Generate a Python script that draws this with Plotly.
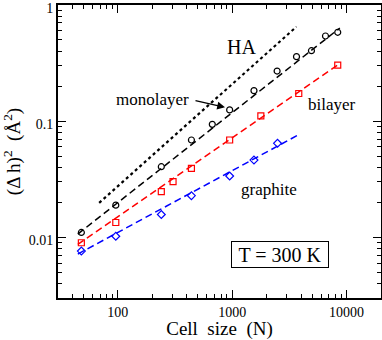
import plotly.graph_objects as go

# data (cell size N, <(Δh)^2> in Å^2)
mono_n = [48, 96, 240, 440, 670, 950, 1550, 2470, 3650, 4930, 6540, 8370]
mono_v = [0.0110, 0.0189, 0.0405, 0.0688, 0.0938, 0.125, 0.183, 0.270, 0.359, 0.404, 0.541, 0.582]
bi_n = [48, 96, 240, 304, 440, 950, 1780, 3820, 8370]
bi_v = [0.00897, 0.0134, 0.0247, 0.0301, 0.0392, 0.0688, 0.111, 0.173, 0.304]
gr_n = [48, 96, 240, 440, 950, 1550, 2490]
gr_v = [0.0076, 0.0102, 0.0157, 0.0228, 0.0337, 0.0462, 0.0644]

# straight power-law fits (end points)
mono_fit_n = [44.7, 8730]
mono_fit_v = [0.01066, 0.634]
bi_fit_n = [44.7, 8370]
bi_fit_v = [0.00869, 0.304]
gr_fit_n = [44.7, 3767]
gr_fit_v = [0.00717, 0.0759]
ha_n = [68.7, 3648]
ha_v = [0.0198, 0.650]

x_ticks = [100, 1000, 10000]
x_labels = ["100", "1000", "10000"]
y_ticks = [0.01, 0.1, 1]
y_labels = ["0.01", "0.1", "1"]

FONT = "Liberation Serif"
dash = "7px,4px"

x_minor = [m * 10 ** e for e in range(1, 5) for m in range(2, 10)]
y_minor = [m * 10.0 ** e for e in range(-3, 0) for m in range(2, 10)]

fig = go.Figure()
fig.add_trace(go.Scatter(x=ha_n, y=ha_v, mode="lines",
                         line=dict(color="black", width=2.2, dash="dot")))
fig.add_trace(go.Scatter(x=mono_fit_n, y=mono_fit_v, mode="lines",
                         line=dict(color="black", width=1.5, dash=dash)))
fig.add_trace(go.Scatter(x=bi_fit_n, y=bi_fit_v, mode="lines",
                         line=dict(color="#ff0000", width=1.5, dash=dash)))
fig.add_trace(go.Scatter(x=gr_fit_n, y=gr_fit_v, mode="lines",
                         line=dict(color="#0000ff", width=1.5, dash=dash)))
fig.add_trace(go.Scatter(x=mono_n, y=mono_v, mode="markers",
                         marker=dict(symbol="circle-open", size=6, color="black",
                                     line=dict(width=1.2))))
fig.add_trace(go.Scatter(x=bi_n, y=bi_v, mode="markers",
                         marker=dict(symbol="square-open", size=6, color="#ff0000",
                                     line=dict(width=1.2))))
fig.add_trace(go.Scatter(x=gr_n, y=gr_v, mode="markers",
                         marker=dict(symbol="diamond-open", size=6, color="#0000ff",
                                     line=dict(width=1.2))))

axis_common = dict(showline=True, linecolor="black", linewidth=2, mirror="ticks",
                   ticks="inside", ticklen=8, tickwidth=1.2, tickcolor="black",
                   showgrid=False, zeroline=False, automargin=False,
                   ticklabeloverflow="allow",
                   tickfont=dict(family=FONT, size=14, color="black"))

fig.update_xaxes(type="log", range=[1.477, 4.301], tickvals=x_ticks, ticktext=x_labels,
                 minor=dict(ticks="inside", ticklen=4, tickwidth=1, tickcolor="black",
                            showgrid=False, tickvals=x_minor),
                 title=dict(text="Cell\u00a0\u00a0size\u00a0\u00a0(N)",
                            font=dict(family=FONT, size=19, color="black"), standoff=14),
                 **axis_common)
fig.update_yaxes(type="log", range=[-2.523, 0.0], tickvals=y_ticks, ticktext=y_labels,
                 ticklabelshift=3,
                 minor=dict(ticks="inside", ticklen=4, tickwidth=1, tickcolor="black",
                            showgrid=False, tickvals=y_minor),
                 title=dict(text="(\u0394 h)<sup>2</sup>\u00a0\u00a0(\u00c5<sup>2</sup>)",
                            font=dict(family=FONT, size=19, color="black"), standoff=6),
                 **axis_common)

txt = dict(family=FONT, color="black")
mid = dict(xref="paper", yref="paper", xanchor="center", yanchor="middle", showarrow=False)
fig.add_annotation(x=0.567, y=0.857, text="HA", font=dict(size=20, **txt), **mid)
fig.add_annotation(x=0.294, y=0.679, text="monolayer", font=dict(size=17, **txt), **mid)
fig.add_annotation(x=0.848, y=0.659, text="bilayer", font=dict(size=17, **txt), **mid)
fig.add_annotation(x=0.653, y=0.369, text="graphite", font=dict(size=17, **txt), **mid)
fig.add_annotation(x=(225 - 58) / 323, y=(298 - 107.3) / 293, xref="paper", yref="paper",
                   text="", showarrow=True, ax=-31, ay=-7, arrowhead=2, arrowsize=1.2,
                   arrowwidth=1.3, arrowcolor="black")
fig.add_annotation(x=0.687, y=0.150, text="T = 300 K", font=dict(size=20, **txt),
                   width=94, height=23, bordercolor="black", borderwidth=1, borderpad=1,
                   bgcolor="white", **mid)

fig.update_layout(width=382, height=340, margin=dict(l=58, r=1, t=5, b=42),
                  paper_bgcolor="white", plot_bgcolor="white", showlegend=False)

# drop the default page margin so the figure fills the 382x340 window
fig.write_html("out.html", config={"displayModeBar": False},
               post_script="document.body.style.margin='0';document.body.style.overflow='hidden';")
